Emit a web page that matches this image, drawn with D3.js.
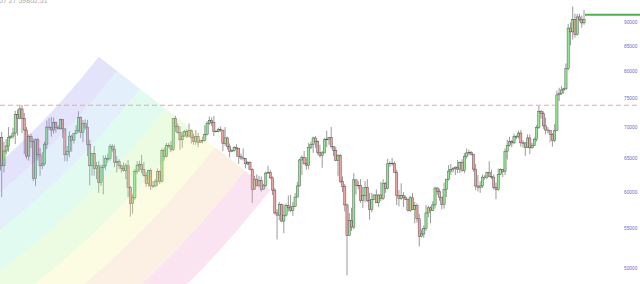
<!DOCTYPE html>
<html>
<head>
<meta charset="utf-8">
<script src="https://cdnjs.cloudflare.com/ajax/libs/d3/7.8.5/d3.min.js"></script>
<style>
  body { margin: 0; background: #fff; overflow: hidden; }
</style>
</head>
<body>
<div id="chart"></div>
<script>
// Daily candles, 4 Mar 2024 .. 18 Nov 2024, prices in thousands of USD
var opens = [
  63.1,68.3,63.8,66.1,66.9,68.3,68.5,69.0,72.1,71.5,73.1,71.4,69.5,65.3,68.4,67.6,61.9,67.9,65.5,63.8,64.1,67.2,70.0,69.9,69.5,70.8,69.9,69.7,
  71.3,69.7,65.5,66.0,68.5,67.8,68.9,69.4,71.6,69.1,70.6,70.0,67.1,63.8,65.7,63.4,63.8,61.3,63.5,63.8,64.9,64.9,66.8,66.4,64.3,64.5,63.8,63.4,63.1,63.8,
  60.6,58.3,59.1,62.9,63.9,64.0,63.2,62.3,61.2,63.1,60.8,60.8,61.5,62.9,61.5,66.2,65.2,67.0,66.9,66.3,71.4,70.1,69.1,67.9,68.5,69.3,68.5,69.4,68.3,67.6,68.4,
  67.5,67.8,67.8,68.8,70.6,71.1,70.8,69.3,69.3,69.6,69.5,67.3,68.2,66.8,66.0,66.2,66.7,66.5,65.2,65.0,64.9,64.1,64.3,63.2,60.3,61.8,60.9,61.6,60.3,60.9,
  62.7,62.8,62.0,60.2,57.0,56.7,58.2,55.9,56.7,58.0,57.7,57.3,57.9,59.2,60.8,64.7,65.1,64.1,63.9,66.7,67.1,68.2,67.6,65.9,65.4,65.8,67.9,68.0,68.3,66.8,66.2,
  64.6,65.4,61.5,60.7,58.1,54.0,56.0,55.1,61.7,60.9,60.9,58.7,59.4,60.6,58.7,57.5,58.9,59.5,58.4,59.5,59.0,61.2,60.4,64.1,64.2,64.2,62.8,59.4,59.0,59.4,59.1,
  58.9,57.3,59.1,57.5,58.0,56.2,53.9,54.2,54.9,57.0,57.7,57.3,58.1,60.5,60.0,59.2,58.2,60.3,61.8,63.0,63.2,63.4,63.6,63.3,64.3,63.1,65.2,65.8,65.9,65.6,
  63.3,60.8,60.6,60.8,62.1,62.1,62.8,62.2,62.1,60.6,60.3,62.5,63.2,62.9,66.0,67.0,67.6,67.4,68.4,68.4,69.0,67.4,67.4,66.7,68.2,66.6,67.0,68.0,69.9,72.7,72.3,
  70.2,69.5,69.4,68.8,67.8,69.4,75.6,75.9,76.5,76.7,80.5,88.7,87.9,90.5,87.3,91.1,90.6,89.8
];
var highs = [
  68.5,69.2,67.6,68.0,70.0,68.6,69.9,72.8,73.0,73.6,73.8,72.4,70.0,68.8,68.9,68.1,68.1,68.2,66.6,65.9,67.6,71.1,71.5,71.7,71.6,70.9,70.3,71.4,
  71.3,69.7,66.9,69.3,68.7,69.0,70.3,72.7,71.8,71.2,71.3,71.2,67.9,65.8,66.9,64.4,64.5,64.0,65.4,65.4,65.7,67.2,67.2,67.1,65.3,64.8,63.9,64.3,64.2,64.7,
  60.8,59.6,63.3,64.5,64.6,65.5,64.4,62.9,63.2,63.4,61.5,61.8,63.4,63.1,66.5,66.7,67.4,67.4,67.7,71.5,71.9,70.6,70.1,69.2,69.5,69.6,70.6,69.6,68.9,69.5,69.0,
  67.9,68.4,70.3,71.0,71.8,71.6,71.9,69.5,69.9,70.1,69.5,70.0,68.4,67.3,66.4,66.9,67.2,66.6,65.7,66.5,65.0,64.5,64.5,63.4,62.3,62.5,62.3,62.2,61.1,62.9,
  63.8,63.2,62.2,60.5,57.5,58.5,58.3,58.2,58.3,59.4,59.5,58.5,59.8,61.4,64.9,65.4,66.1,65.1,67.4,67.6,68.4,68.5,67.8,67.1,66.1,68.2,69.4,68.3,70.0,66.9,66.8,
  65.6,65.6,62.2,61.1,58.3,57.0,57.7,62.7,61.7,61.5,61.8,60.7,61.5,61.8,59.8,59.8,59.6,60.3,59.6,61.4,61.8,61.4,64.9,64.5,65.0,64.5,63.2,60.2,61.2,59.9,59.4,
  59.0,59.4,59.8,58.5,58.3,56.9,54.8,55.3,58.1,58.0,57.9,58.6,60.7,60.6,60.4,59.2,61.3,61.8,63.9,64.1,63.6,63.7,64.7,64.5,64.8,65.8,66.5,66.3,66.1,65.6,
  64.1,62.4,61.5,62.5,62.4,62.9,64.5,63.2,62.5,61.3,63.4,63.4,63.3,66.5,67.9,68.4,67.9,68.9,68.7,69.4,69.5,67.8,67.5,68.8,68.8,67.4,68.3,70.3,73.6,72.9,72.7,
  71.6,70.0,69.4,69.0,70.5,76.4,76.9,77.2,76.9,81.5,89.6,89.9,93.4,91.8,91.8,91.8,91.4,92.6
];
var lows = [
  62.4,59.2,62.8,65.6,66.0,68.0,68.1,67.2,68.6,71.3,69.0,65.6,64.8,64.6,66.6,61.5,60.8,64.6,62.3,63.3,63.8,66.4,69.5,68.4,68.9,69.1,69.6,69.6,
  68.2,64.5,64.5,65.1,66.0,67.3,68.8,69.1,68.2,67.5,69.6,65.3,60.9,62.3,62.3,61.8,59.8,60.8,59.6,63.2,64.3,64.6,65.9,63.6,62.8,63.3,62.8,62.9,61.8,59.2,
  56.5,56.9,58.8,62.6,62.9,62.7,62.2,60.7,60.7,60.2,60.5,60.6,60.8,61.1,61.3,64.6,65.1,66.6,65.9,66.1,69.2,68.9,66.3,66.6,68.5,68.2,68.3,67.3,67.1,67.1,66.7,
  67.4,67.3,67.6,68.6,70.4,70.2,68.5,69.2,69.1,69.2,66.1,66.9,66.3,65.1,65.9,66.0,65.2,64.1,64.7,64.6,63.4,63.9,63.2,58.4,60.3,60.7,60.6,60.0,60.3,60.6,
  62.6,61.8,59.5,56.8,53.5,56.0,55.8,54.3,56.5,57.2,57.1,56.6,57.8,59.2,60.7,62.4,64.0,63.2,63.3,66.4,65.8,66.6,65.5,65.1,63.5,65.8,66.7,67.1,66.5,65.3,64.5,
  62.3,61.2,59.9,57.2,49.1,54.0,54.6,54.8,59.6,60.3,58.4,57.7,58.5,58.5,56.1,57.1,58.8,58.4,57.8,58.6,58.8,59.8,60.3,63.6,63.8,62.8,58.1,57.9,58.8,57.8,58.8,
  57.2,57.1,57.4,55.6,55.7,52.6,53.8,53.7,54.6,56.4,55.6,57.3,57.6,59.5,58.7,57.5,57.6,59.2,61.6,62.4,62.8,62.4,62.7,62.7,62.9,62.7,64.9,65.4,65.4,62.9,
  60.2,60.0,59.8,60.5,61.7,61.8,62.2,61.8,60.3,58.9,60.1,62.4,62.1,62.4,64.8,66.8,66.7,67.2,68.0,68.1,66.8,66.6,65.3,66.6,65.6,66.5,66.9,67.6,69.7,71.4,69.7,
  68.8,69.0,67.5,66.8,67.5,69.4,74.5,75.6,75.8,76.5,80.2,85.1,86.3,86.7,87.1,90.1,88.8,89.4
];
var closes = [
  68.3,63.8,66.1,66.9,68.3,68.5,69.0,72.1,71.5,73.1,71.4,69.5,65.3,68.4,67.6,61.9,67.9,65.5,63.8,64.1,67.2,70.0,69.9,69.5,70.8,69.9,69.7,71.3,
  69.7,65.5,66.0,68.5,67.8,68.9,69.4,71.6,69.1,70.6,70.0,67.1,63.8,65.7,63.4,63.8,61.3,63.5,63.8,64.9,64.9,66.8,66.4,64.3,64.5,63.8,63.4,63.1,63.8,60.6,
  58.3,59.1,62.9,63.9,64.0,63.2,62.3,61.2,63.1,60.8,60.8,61.5,62.9,61.5,66.2,65.2,67.0,66.9,66.3,71.4,70.1,69.1,67.9,68.5,69.3,68.5,69.4,68.3,67.6,68.4,67.5,
  67.8,67.8,68.8,70.6,71.1,70.8,69.3,69.3,69.6,69.5,67.3,68.2,66.8,66.0,66.2,66.7,66.5,65.2,65.0,64.9,64.1,64.3,63.2,60.3,61.8,60.9,61.6,60.3,60.9,62.7,
  62.8,62.0,60.2,57.0,56.7,58.2,55.9,56.7,58.0,57.7,57.3,57.9,59.2,60.8,64.7,65.1,64.1,63.9,66.7,67.1,68.2,67.6,65.9,65.4,65.8,67.9,68.0,68.3,66.8,66.2,64.6,
  65.4,61.5,60.7,58.1,54.0,56.0,55.1,61.7,60.9,60.9,58.7,59.4,60.6,58.7,57.5,58.9,59.5,58.4,59.5,59.0,61.2,60.4,64.1,64.2,64.2,62.8,59.4,59.0,59.4,59.1,58.9,
  57.3,59.1,57.5,58.0,56.2,53.9,54.2,54.9,57.0,57.7,57.3,58.1,60.5,60.0,59.2,58.2,60.3,61.8,63.0,63.2,63.4,63.6,63.3,64.3,63.1,65.2,65.8,65.9,65.6,63.3,
  60.8,60.6,60.8,62.1,62.1,62.8,62.2,62.1,60.6,60.3,62.5,63.2,62.9,66.0,67.0,67.6,67.4,68.4,68.4,69.0,67.4,67.4,66.7,68.2,66.6,67.0,68.0,69.9,72.7,72.3,70.2,
  69.5,69.4,68.8,67.8,69.4,75.6,75.9,76.5,76.7,80.5,88.7,87.9,90.5,87.3,91.1,90.6,89.8,90.5
];

var priceTicks = [50000, 55000, 60000, 65000, 70000, 75000, 80000, 85000, 90000];
var athLevel = 73750;      // dashed level
var rayLevel = 91600;      // green ray at the right
var headerText = "07 27   59802.51";

// rainbow arcs: centre, inner edge point, outer edge point (day index, price)
var rainbowCenter = { day: -233, price: 265000 };
var rainbowInner = { day: 44, price: 82800 };
var rainbowOuter = { day: 120, price: 60200 };
var rainbowStops = [0, 0.105, 0.24, 0.386, 0.532, 0.678, 0.854, 1];
var rainbowColors = ["#9191ee", "#91c6f5", "#8aeec6", "#b2f591", "#f5f591", "#f5c091", "#ee98cd"];

var width = 640, height = 284;

var svg = d3.select("#chart").append("svg")
    .attr("width", width)
    .attr("height", height);

var x = d3.scaleLinear().domain([0, closes.length - 1]).range([-0.56, 584]);
var y = d3.scaleLog().domain([50000, 90000]).range([267.7, 22]);

var candles = closes.map(function (c, i) {
    return { i: i, o: opens[i] * 1000, h: highs[i] * 1000, l: lows[i] * 1000, c: c * 1000 };
});

var bodyW = 2.2;

// wicks
svg.append("g").selectAll("line")
    .data(candles)
    .enter().append("line")
    .attr("x1", function (d) { return x(d.i); })
    .attr("x2", function (d) { return x(d.i); })
    .attr("y1", function (d) { return y(d.h); })
    .attr("y2", function (d) { return y(d.l); })
    .style("stroke", "#9a9a9a")
    .style("stroke-width", 1);

// bodies
svg.append("g").selectAll("rect")
    .data(candles)
    .enter().append("rect")
    .attr("x", function (d) { return x(d.i) - bodyW / 2; })
    .attr("y", function (d) { return y(Math.max(d.o, d.c)); })
    .attr("width", bodyW)
    .attr("height", function (d) { return Math.max(0.6, Math.abs(y(d.o) - y(d.c))); })
    .style("fill", function (d) { return d.c >= d.o ? "#8eea8e" : "#f2a0a0"; })
    .style("stroke", "#4a4a4a")
    .style("stroke-width", 0.45);

// rainbow arcs drawn over the candles
var pc = [x(rainbowCenter.day), y(rainbowCenter.price)];
var p0 = [x(rainbowInner.day), y(rainbowInner.price)];
var p1 = [x(rainbowOuter.day), y(rainbowOuter.price)];
var r0 = Math.hypot(p0[0] - pc[0], p0[1] - pc[1]);
var r1 = Math.hypot(p1[0] - pc[0], p1[1] - pc[1]);
var a0 = Math.atan2(p0[0] - pc[0], -(p0[1] - pc[1]));

var arc = d3.arc();
svg.append("g")
    .attr("transform", "translate(" + pc[0] + "," + pc[1] + ")")
    .selectAll("path")
    .data(rainbowColors)
    .enter().append("path")
    .attr("d", function (d, k) {
        return arc({
            innerRadius: r0 + (r1 - r0) * rainbowStops[k],
            outerRadius: r0 + (r1 - r0) * rainbowStops[k + 1],
            startAngle: a0,
            endAngle: a0 + 1.2
        });
    })
    .style("fill", function (d) { return d; })
    .style("fill-opacity", 0.26);

// previous high, dashed
svg.append("line")
    .attr("x1", 0).attr("x2", width)
    .attr("y1", y(athLevel)).attr("y2", y(athLevel))
    .style("stroke", "#f3a3a3")
    .style("stroke-width", 1)
    .style("stroke-dasharray", "5,3");

// green ray from the last candle
svg.append("line")
    .attr("x1", x(closes.length - 1) + 1).attr("x2", width)
    .attr("y1", y(rayLevel)).attr("y2", y(rayLevel))
    .style("stroke", "#4caf50")
    .style("stroke-width", 2);

// price axis
var axis = svg.append("g")
    .attr("transform", "translate(624,0)")
    .call(d3.axisRight(y).tickValues(priceTicks).tickSize(0).tickPadding(0).tickFormat(d3.format("d")));
axis.select(".domain").remove();
axis.selectAll("text")
    .style("font-family", "Liberation Sans, Arial, sans-serif")
    .style("font-size", "4.8px")
    .style("fill", "#6a6ad0");

// clipped header
svg.append("text")
    .attr("x", -1)
    .attr("y", 2.5)
    .style("font-family", "Liberation Sans, Arial, sans-serif")
    .style("font-size", "7px")
    .style("fill", "#aaa")
    .text(headerText);
</script>
</body>
</html>
